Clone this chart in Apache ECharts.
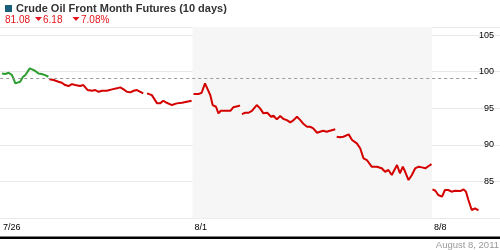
<!DOCTYPE html>
<html><head><meta charset="utf-8">
<script src="https://cdn.jsdelivr.net/npm/echarts@6/dist/echarts.min.js"></script>
<style>html,body{margin:0;padding:0;background:#fff}#c{width:500px;height:250px}</style>
</head><body><div id="c"></div>
<script>
const titleText = 'Crude Oil Front Month Futures (10 days)';
const lastPrice = '81.08', change = '6.18', changePct = '7.08%';
const dateText = 'August 8, 2011';
const dayLabels = ['7/26','7/27','7/28','7/29','8/1','8/2','8/3','8/4','8/5','8/8'];
const labeledDays = [0, 4, 9];
const shadedWeek = [4, 9];
const prevClose = 99.09;
const yTicks = [85, 90, 95, 100, 105];

// time = trading-day index (fractional), null price = gap between sessions
const upTimes  = [0.02,0.09,0.16,0.23,0.30,0.33,0.40,0.46,0.51,0.54,0.60,0.65,0.71,0.78,0.85,0.92,0.99];
const upPrices = [99.77,99.68,99.86,99.54,98.41,98.18,98.63,99.31,99.54,99.54,100.45,100.32,100.13,99.77,99.68,99.54,99.31];

const downTimes = [
 1.01,1.10,1.20,1.27,1.34,1.41,1.48,1.55,1.65,1.72,1.81,1.90,1.97,2.04,2.11,2.21,2.32,2.42,2.49,2.56,2.63,2.70,2.77,2.84,2.91,2.97,2.99,
 3.05,3.15,3.26,3.32,3.39,3.46,3.57,3.67,3.78,3.88,3.98,4.00,
 4.02,4.12,4.19,4.26,4.30,4.37,4.42,4.49,4.54,4.59,4.72,4.79,4.85,4.96,4.99,5.00,
 5.03,5.10,5.17,5.24,5.27,5.34,5.41,5.48,5.56,5.64,5.69,5.76,5.83,5.90,5.97,6.04,6.11,6.18,6.25,6.32,6.39,6.46,6.52,6.60,6.66,6.73,6.80,6.87,6.98,7.00,
 7.01,7.08,7.15,7.26,7.33,7.43,7.50,7.57,7.64,7.74,7.85,7.95,8.02,8.09,8.16,8.27,8.33,8.39,8.44,8.51,8.58,8.65,8.72,8.79,8.86,8.93,8.99,9.00,
 9.01,9.07,9.13,9.21,9.27,9.34,9.41,9.48,9.59,9.66,9.71,9.76,9.83,9.86,9.90,9.94,9.97];
const downPrices = [
 98.96,98.86,98.63,98.49,98.18,98.04,98.31,98.18,98.04,98.18,97.50,97.40,97.50,97.26,97.40,97.40,97.59,97.73,97.86,97.59,97.26,97.18,97.40,97.50,97.26,97.05,null,
 97.05,96.81,95.68,95.68,96.04,95.76,95.45,95.68,95.76,95.90,96.04,null,
 96.95,96.95,97.13,98.41,98.18,96.81,95.45,95.22,94.32,94.67,94.67,94.67,95.14,95.31,95.40,null,
 94.22,94.40,94.40,94.67,94.54,95.45,95.00,94.32,94.40,93.86,93.99,93.50,93.95,93.54,93.40,93.09,93.40,93.86,93.40,92.86,92.49,92.49,92.27,91.67,91.81,91.95,91.81,91.95,92.14,null,
 91.13,91.05,91.13,91.45,90.68,90.23,89.55,88.18,87.95,87.04,87.04,86.82,86.35,86.59,85.90,87.27,86.14,87.04,86.35,85.22,85.90,86.82,87.04,86.95,86.82,87.13,87.40,null,
 83.95,83.76,83.18,82.95,83.86,83.86,83.63,83.76,83.72,83.95,83.63,82.50,81.13,80.90,81.36,81.13,81.08];

const pairs = (ts, vs) => ts.map((t, i) => [t, vs[i] == null ? '-' : vs[i]]);
const FONT = 'Arial, "Liberation Sans", sans-serif';
const RED = '#d40000', GREEN = '#2e9e2e', TXT_RED = '#e3141b';
const lastT = downTimes[downTimes.length - 1];
const downArrow = x => ({type: 'polygon', shape: {points: [[x, 17], [x + 7, 17], [x + 3.5, 21]]}, style: {fill: TXT_RED}});

const chart = echarts.init(document.getElementById('c'), null, {renderer: 'canvas'});
chart.setOption({
  animation: false,
  grid: {left: 0, right: 0, top: 27, bottom: 31.7, containLabel: false},
  xAxis: {
    type: 'value', min: -0.017, max: 10.42,
    axisLine: {show: false}, axisTick: {show: false}, splitLine: {show: false},
    axisLabel: {
      customValues: labeledDays,
      formatter: v => dayLabels[Math.round(v)],
      align: 'left', margin: 5, padding: [0, 0, 0, 2],
      fontSize: 9, color: '#000', fontFamily: FONT
    }
  },
  yAxis: {
    type: 'value', position: 'right', min: 80, max: 106.1, interval: 5,
    axisLine: {show: false}, axisTick: {show: false},
    splitLine: {show: true, lineStyle: {color: '#e8e8e8', width: 1}},
    axisLabel: {
      inside: true, margin: 6, fontSize: 9, color: '#000', fontFamily: FONT,
      padding: [11, 0, 0, 0],
      formatter: v => yTicks.indexOf(Math.round(v * 100) / 100) >= 0 ? String(v) : ''
    }
  },
  series: [
    {
      type: 'line', z: -1, data: [], silent: true,
      markArea: {silent: true, itemStyle: {color: '#f6f6f6'},
        data: [[{xAxis: shadedWeek[0]}, {xAxis: shadedWeek[1]}]]},
      markLine: {silent: true, symbol: 'none', label: {show: false},
        lineStyle: {color: '#999', type: [3, 3], width: 1},
        data: [[{coord: [-0.017, prevClose]}, {coord: [lastT, prevClose]}]]}
    },
    {type: 'line', data: pairs(upTimes, upPrices), showSymbol: false, connectNulls: false,
     lineStyle: {color: GREEN, width: 2}, itemStyle: {color: GREEN}},
    {type: 'line', data: pairs(downTimes, downPrices), showSymbol: false, connectNulls: false,
     lineStyle: {color: RED, width: 2}, itemStyle: {color: RED}}
  ],
  graphic: [
    {type: 'rect', shape: {x: 5, y: 5, width: 7, height: 7}, style: {fill: '#1a5e7c'}},
    {type: 'text', x: 16, y: 9, style: {text: titleText, font: 'bold 11px ' + FONT, fill: '#333', verticalAlign: 'middle'}},
    {type: 'text', x: 5, y: 20, style: {text: lastPrice, font: '10px ' + FONT, fill: TXT_RED, verticalAlign: 'middle'}},
    downArrow(35),
    {type: 'text', x: 43, y: 20, style: {text: change, font: '10px ' + FONT, fill: TXT_RED, verticalAlign: 'middle'}},
    downArrow(72.5),
    {type: 'text', x: 81, y: 20, style: {text: changePct, font: '10px ' + FONT, fill: TXT_RED, verticalAlign: 'middle'}},
    {type: 'rect', shape: {x: 0, y: 236.5, width: 500, height: 2.5}, style: {fill: '#000'}},
    {type: 'text', x: 499, y: 245, style: {text: dateText, font: '9.5px ' + FONT, fill: '#999', align: 'right', verticalAlign: 'middle'}}
  ]
});
</script></body></html>
